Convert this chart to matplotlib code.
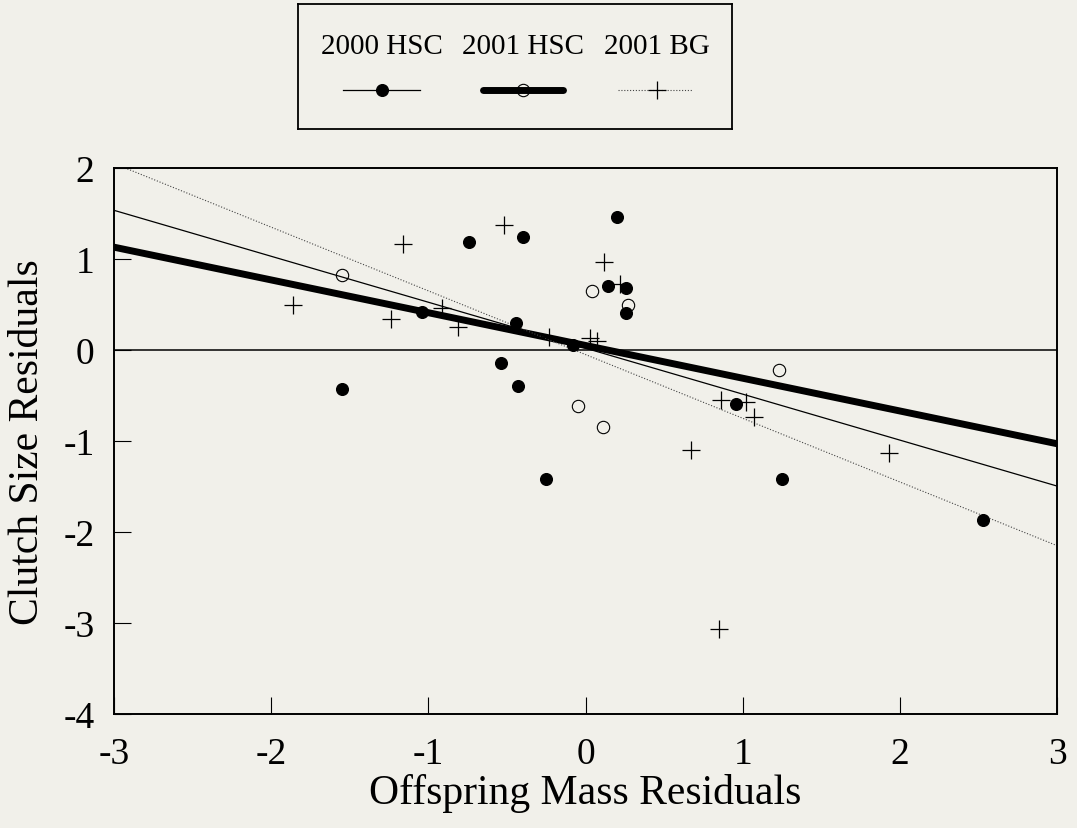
import matplotlib
matplotlib.use('Agg')
import matplotlib.pyplot as plt
import numpy as np

plt.rcParams['font.family'] = ['Liberation Serif', 'DejaVu Serif']
plt.rcParams['axes.unicode_minus'] = False

BG = '#f1f0ea'

# 2000 HSC (filled circles)
hsc00_x = [-0.74, -0.40, -1.04, -0.44, -0.08, -0.54, -0.43, -1.55, -0.25,
           0.20, 0.14, 0.26, 0.26, 0.96, 1.25, 2.53]
hsc00_y = [1.19, 1.24, 0.42, 0.30, 0.06, -0.14, -0.40, -0.43, -1.42,
           1.46, 0.70, 0.68, 0.41, -0.59, -1.42, -1.87]

# 2001 HSC (open circles)
hsc01_x = [-1.55, 0.04, 0.27, 1.23, -0.05, 0.11]
hsc01_y = [0.82, 0.65, 0.50, -0.22, -0.61, -0.85]

# 2001 BG (plus)
bg01_x = [-1.16, -0.52, -1.86, -1.24, -0.91, -0.81, -0.23, 0.03, 0.07,
          0.12, 0.22, 0.86, 1.02, 1.07, 0.67, 1.93, 0.85]
bg01_y = [1.17, 1.37, 0.50, 0.34, 0.46, 0.25, 0.14, 0.13, 0.10,
          0.97, 0.72, -0.55, -0.57, -0.74, -1.10, -1.13, -3.07]

# regression lines: (intercept, slope)
fit_hsc00 = (0.02, -0.505)
fit_hsc01 = (0.05, -0.36)
fit_bg01 = (-0.05, -0.70)

labels = ['2000 HSC', '2001 HSC', '2001 BG']


def main():
    fig = plt.figure(figsize=(10.77, 8.29), dpi=100, facecolor=BG)
    ax = fig.add_axes([114 / 1077, 1 - 715 / 829, 943 / 1077, 546 / 829])
    ax.set_facecolor(BG)

    xs = np.array([-3, 3])
    ax.axhline(0, color='black', lw=1.1, zorder=1)
    ax.plot(xs, fit_hsc00[0] + fit_hsc00[1] * xs, color='black', lw=0.9, zorder=2)
    ax.plot(xs, fit_hsc01[0] + fit_hsc01[1] * xs, color='black', lw=5, zorder=2)
    ax.plot(xs, fit_bg01[0] + fit_bg01[1] * xs, color='#444444', lw=0.8,
            ls=(0, (1, 1.6)), zorder=2)

    ax.plot(hsc00_x, hsc00_y, 'o', ms=8.4, color='black', zorder=3)
    ax.plot(hsc01_x, hsc01_y, 'o', ms=8.9, mfc='none', mec='black', mew=0.8, zorder=3)
    ax.plot(bg01_x, bg01_y, '+', ms=13, color='black', mew=0.9, zorder=3)

    ax.set_xlim(-3, 3)
    ax.set_ylim(-4, 2)
    ax.set_xticks(range(-3, 4))
    ax.set_yticks(range(-4, 3))
    ax.tick_params(direction='in', length=12, width=0.8, labelsize=27)
    ax.tick_params(axis='x', pad=16)
    ax.tick_params(axis='y', pad=14)
    for s in ax.spines.values():
        s.set_linewidth(1.4)
    ax.set_xlabel('Offspring Mass Residuals', fontsize=30, labelpad=2)
    ax.set_ylabel('Clutch Size Residuals', fontsize=30, labelpad=12)

    # legend drawn as a small box above the plot
    lg = fig.add_axes([298 / 1077, 1 - 130 / 829, 434 / 1077, 125 / 829])
    lg.set_facecolor(BG)
    lg.set_xlim(298, 732)
    lg.set_ylim(130, 5)
    lg.set_xticks([])
    lg.set_yticks([])
    for s in lg.spines.values():
        s.set_linewidth(1.3)
    centers = [382, 523, 657]
    for c, lab in zip(centers, labels):
        lg.text(c, 47, lab, ha='center', va='center', fontsize=21)
    lg.plot([343, 420], [91, 91], color='black', lw=0.9)
    lg.plot([382], [91], 'o', ms=8.4, color='black')
    lg.plot([483, 563], [91, 91], color='black', lw=5, solid_capstyle='round')
    lg.plot([523], [91], 'o', ms=8.9, mfc='none', mec='black', mew=0.8)
    lg.plot([618, 693], [91, 91], color='#444444', lw=0.8, ls=(0, (1, 1.6)))
    lg.plot([657], [91], '+', ms=13, color='black', mew=0.9)

    fig.savefig('out.png', dpi=100, facecolor=BG)


if __name__ == "__main__":
    main()
